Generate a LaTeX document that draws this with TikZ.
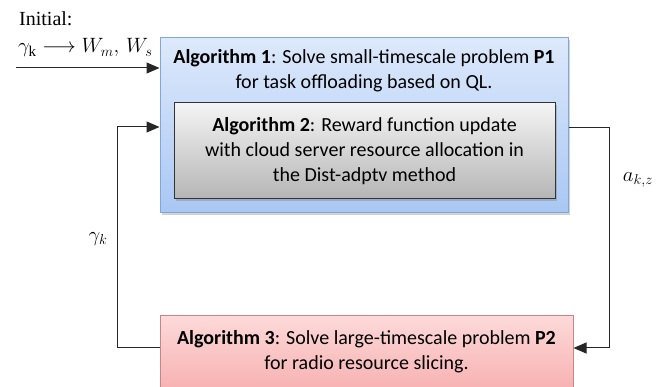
\documentclass[tikz,border=0pt]{standalone}
\usepackage{fontspec}
\setmainfont{Carlito}
\newfontfamily\serifx{Liberation Serif}
\usetikzlibrary{arrows.meta,shadows}
\definecolor{bluetop}{HTML}{DDE9FB}
\definecolor{bluebot}{HTML}{A9C7F4}
\definecolor{blueline}{HTML}{7FA6DD}
\definecolor{graytop}{HTML}{F4F4F4}
\definecolor{graybot}{HTML}{B5B5B5}
\definecolor{redtop}{HTML}{FDD9D9}
\definecolor{redbot}{HTML}{F5A3A3}
\definecolor{redline}{HTML}{C98585}
\tikzset{
  box/.style={draw, line width=1pt, inner sep=0pt, rectangle},
  bluebox/.style={box, draw=blueline, top color=bluetop, bottom color=bluebot,
    drop shadow={shadow xshift=2pt, shadow yshift=-2pt, opacity=0.35}},
  graybox/.style={box, draw=black!80, top color=graytop, bottom color=graybot,
    drop shadow={shadow xshift=2pt, shadow yshift=-2pt, opacity=0.4}},
  redbox/.style={box, draw=redline, top color=redtop, bottom color=redbot},
  txt/.style={align=center, font=\fontsize{20}{25}\selectfont, inner sep=0pt},
  lbl/.style={font=\fontsize{20}{24}\selectfont, inner sep=0pt},
  mlbl/.style={font=\fontsize{22}{26}\selectfont, inner sep=0pt},
  conn/.style={line width=1pt, draw=black!85},
  arr/.style={conn, -{Triangle[length=13pt,width=11pt]}}
}
\begin{document}
\begin{tikzpicture}[x=1pt,y=-1pt]
\useasboundingbox (0,0) rectangle (667,387);
\begin{scope}
\clip (0,0) rectangle (667,387);
\node[bluebox, minimum width=408pt, minimum height=175pt] (alg1) at (364,125.5) {};
\node[graybox, minimum width=381pt, minimum height=96pt] (alg2) at (364.5,151) {};
\node[redbox, minimum width=413pt, minimum height=100pt] (alg3) at (366.5,366) {};
\end{scope}
\node[txt] (t1) at (364,71) {\textbf{Algorithm 1}: Solve small-timescale problem \textbf{P1}\\for task offloading based on QL.};
\node[txt] (t2) at (364.5,151) {\textbf{Algorithm 2}: Reward function update\\with cloud server resource allocation in\\the Dist-adptv method};
\node[txt] (t3) at (366.5,352) {\textbf{Algorithm 3}: Solve large-timescale problem \textbf{P2}\\for radio resource slicing.};
% initial text
\node[lbl, anchor=base west] (init) at (19,26) {\serifx Initial:};
\node[mlbl, anchor=base west] (initm) at (18,53) {$\gamma_{\hbox{\serifx\fontsize{15}{15}\selectfont k}} \longrightarrow W_m,\, W_s$};
\coordinate (instart) at (16,68);
\draw[arr] (instart) -- (alg1.west |- instart);
% left loop
\coordinate (lb) at (117,348);
\coordinate (lt) at (117,127);
\draw[arr] (alg3.west |- lb) -- (lb) -- (lt) -- (alg1.west |- lt);
\node[mlbl] (gk) at (98,239) {$\gamma_k$};
% right loop
\coordinate (rt) at (609,128);
\coordinate (rb) at (609,348);
\draw[arr] (alg1.east |- rt) -- (rt) -- (rb) -- (alg3.east |- rb);
\node[mlbl] (akz) at (638,180) {$a_{k,z}$};
\end{tikzpicture}
\end{document}
